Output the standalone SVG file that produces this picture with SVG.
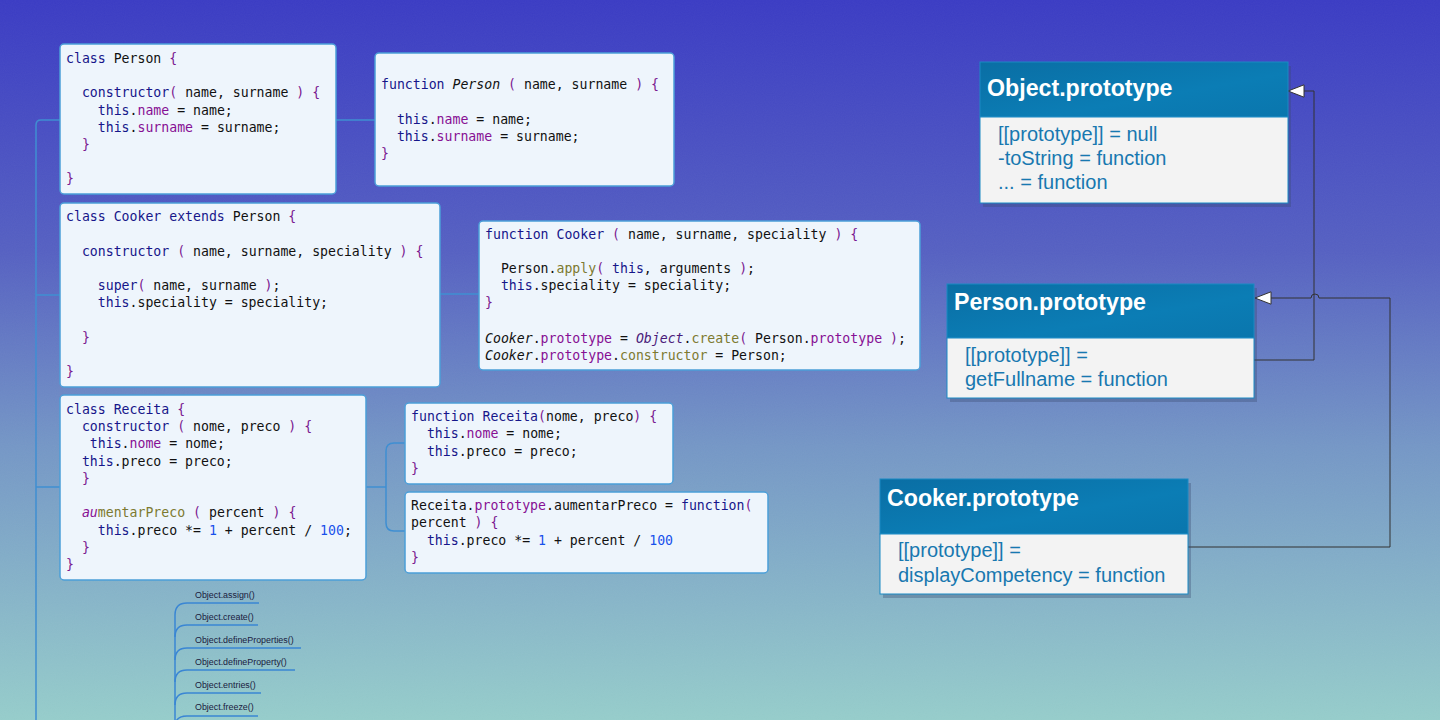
<svg xmlns="http://www.w3.org/2000/svg" width="1440" height="720" viewBox="0 0 1440 720">
<defs>
<linearGradient id="bg" x1="0" y1="0" x2="0" y2="1">
<stop offset="0" stop-color="#3a3bc3"/>
<stop offset="0.35" stop-color="#5560c1"/>
<stop offset="0.62" stop-color="#7496c5"/>
<stop offset="1" stop-color="#95ccca"/>
</linearGradient>
<linearGradient id="hdr" x1="0" y1="0" x2="1" y2="1">
<stop offset="0" stop-color="#0a6ea4"/>
<stop offset="0.6" stop-color="#0b7db5"/>
<stop offset="1" stop-color="#0a76ad"/>
</linearGradient>
<filter id="noise" x="0" y="0" width="100%" height="100%">
<feTurbulence type="fractalNoise" baseFrequency="0.9" numOctaves="1" seed="3"/>
<feColorMatrix type="matrix" values="0 0 0 0 1  0 0 0 0 1  0 0 0 0 1  0 0 0 0.5 0"/>
</filter>
<marker id="tri" viewBox="0 0 17 14" refX="16.5" refY="7" markerWidth="17" markerHeight="14" markerUnits="userSpaceOnUse" orient="auto">
<path d="M0.5,0.8 L16.5,7 L0.5,13.2 Z" fill="#ffffff" stroke="#333333" stroke-width="1"/>
</marker>
</defs>
<style>
.code{font-family:"DejaVu Sans Mono","Liberation Mono",monospace;font-size:13.2px;fill:#111111;white-space:pre}
.k{fill:#16168a}
.p{fill:#871094}
.b{fill:#7a1890}
.m{fill:#7d7a30}
.n{fill:#1750eb}
.i{font-style:italic}
.box{fill:#eef5fc;stroke:#4b9ed8;stroke-width:1.5}
.tree{fill:none;stroke:#3f8fd2;stroke-width:1.5}
.list{fill:none;stroke:#3a86d4;stroke-width:1.5}
.li{font-family:"Liberation Sans",Arial,sans-serif;font-size:8.9px;fill:#1a2040}
.phdr{fill:url(#hdr);stroke:#1a8ac4;stroke-width:1}
.pbody{fill:#f3f3f3;stroke:#1a8ac4;stroke-width:1}
.pshadow{fill:#3a4a70;opacity:0.35}
.ptitle{font-family:"Liberation Sans",Arial,sans-serif;font-weight:bold;font-size:23.2px;fill:#ffffff}
.ptext{font-family:"Liberation Sans",Arial,sans-serif;font-size:20px;fill:#1878b0}
.conn{fill:none;stroke:#333333;stroke-width:1}
</style>
<rect width="1440" height="720" fill="url(#bg)"/>
<rect width="1440" height="720" filter="url(#noise)" opacity="0.07"/>

<g id="connectors">
<path class="tree" d="M36,720 V125 Q36,120 41,120 H60"/>
<path class="tree" d="M36,295 H60"/>
<path class="tree" d="M36,487 H60"/>
<path class="tree" d="M336,120 H375"/>
<path class="tree" d="M440,294 H479"/>
<path class="tree" d="M366,487 H386"/>
<path class="tree" d="M405,443 H394 Q386,443 386,451 V523 Q386,531 394,531 H405"/>
<path class="list" d="M175,720 V615 Q175,603 187,603 H259"/>
<path class="list" d="M175,637 Q175,625 187,625 H258"/>
<path class="list" d="M175,660 Q175,648 187,648 H301"/>
<path class="list" d="M175,682 Q175,670 187,670 H295"/>
<path class="list" d="M175,705 Q175,693 187,693 H261"/>
<path class="list" d="M175,727 Q175,716 187,716 H258"/>
<path class="conn" d="M1254,360 H1314 V91 H1288" marker-end="url(#tri)"/>
<path class="conn" d="M1188,547 H1390 V298 H1319 A4,4 0 0 0 1311,298 H1255" marker-end="url(#tri)"/>
</g>

<g id="class-person">
<rect class="box" x="60" y="44" width="276" height="150" rx="4"/>
<text class="code" x="66" y="62.5"><tspan class="k">class</tspan> Person <tspan class="b">{</tspan></text>
<text class="code" x="66" y="96.5">  <tspan class="k">constructor</tspan><tspan class="b">(</tspan> name, surname <tspan class="b">) {</tspan></text>
<text class="code" x="66" y="114.5">    <tspan class="k">this</tspan>.<tspan class="p">name</tspan> = name;</text>
<text class="code" x="66" y="131.5">    <tspan class="k">this</tspan>.<tspan class="p">surname</tspan> = surname;</text>
<text class="code" x="66" y="148.5">  <tspan class="b">}</tspan></text>
<text class="code" x="66" y="182.5"><tspan class="b">}</tspan></text>
</g>

<g id="function-person">
<rect class="box" x="375" y="53" width="299" height="133" rx="4"/>
<text class="code" x="381" y="88.5"><tspan class="k">function</tspan> <tspan class="i">Person</tspan> <tspan class="b">(</tspan> name, surname <tspan class="b">) {</tspan></text>
<text class="code" x="381" y="123.5">  <tspan class="k">this</tspan>.<tspan class="p">name</tspan> = name;</text>
<text class="code" x="381" y="140.5">  <tspan class="k">this</tspan>.<tspan class="p">surname</tspan> = surname;</text>
<text class="code" x="381" y="157.5"><tspan class="b">}</tspan></text>
</g>

<g id="class-cooker">
<rect class="box" x="60" y="203" width="380" height="184" rx="4"/>
<text class="code" x="66" y="220.5"><tspan class="k">class Cooker extends</tspan> Person <tspan class="b">{</tspan></text>
<text class="code" x="66" y="255.5">  <tspan class="k">constructor</tspan> <tspan class="b">(</tspan> name, surname, speciality <tspan class="b">) {</tspan></text>
<text class="code" x="66" y="289.5">    <tspan class="k">super</tspan><tspan class="b">(</tspan> name, surname <tspan class="b">)</tspan>;</text>
<text class="code" x="66" y="306.5">    <tspan class="k">this</tspan>.speciality = speciality;</text>
<text class="code" x="66" y="341.5">  <tspan class="b">}</tspan></text>
<text class="code" x="66" y="375.5"><tspan class="b">}</tspan></text>
</g>

<g id="function-cooker">
<rect class="box" x="479" y="221" width="441" height="149" rx="4"/>
<text class="code" x="485" y="238.5"><tspan class="k">function Cooker</tspan> <tspan class="b">(</tspan> name, surname, speciality <tspan class="b">) {</tspan></text>
<text class="code" x="485" y="272.5">  Person.<tspan class="m">apply</tspan><tspan class="b">(</tspan> <tspan class="k">this</tspan>, arguments <tspan class="b">)</tspan>;</text>
<text class="code" x="485" y="289.5">  <tspan class="k">this</tspan>.speciality = speciality;</text>
<text class="code" x="485" y="306.5"><tspan class="b">}</tspan></text>
<text class="code" x="485" y="342.5"><tspan class="i">Cooker</tspan>.<tspan class="p">prototype</tspan> = <tspan class="i" fill="#4a1a7a">Object</tspan>.<tspan class="m">create</tspan><tspan class="b">(</tspan> Person.<tspan class="p">prototype</tspan> <tspan class="b">)</tspan>;</text>
<text class="code" x="485" y="359.5"><tspan class="i">Cooker</tspan>.<tspan class="p">prototype</tspan>.<tspan class="m">constructor</tspan> = Person;</text>
</g>

<g id="class-receita">
<rect class="box" x="60" y="395" width="306" height="185" rx="4"/>
<text class="code" x="66" y="413.5"><tspan class="k">class Receita</tspan> <tspan class="b">{</tspan></text>
<text class="code" x="66" y="430.5">  <tspan class="k">constructor</tspan> <tspan class="b">(</tspan> nome, preco <tspan class="b">) {</tspan></text>
<text class="code" x="66" y="447.5">   <tspan class="k">this</tspan>.<tspan class="p">nome</tspan> = nome;</text>
<text class="code" x="66" y="465.5">  <tspan class="k">this</tspan>.preco = preco;</text>
<text class="code" x="66" y="482.5">  <tspan class="b">}</tspan></text>
<text class="code" x="66" y="516.5">  <tspan class="p i">au</tspan><tspan class="m">mentarPreco</tspan> <tspan class="b">(</tspan> percent <tspan class="b">) {</tspan></text>
<text class="code" x="66" y="534.5">    <tspan class="k">this</tspan>.preco *= <tspan class="n">1</tspan> + percent / <tspan class="n">100</tspan>;</text>
<text class="code" x="66" y="551.5">  <tspan class="b">}</tspan></text>
<text class="code" x="66" y="568.5"><tspan class="b">}</tspan></text>
</g>

<g id="function-receita">
<rect class="box" x="405" y="403" width="268" height="81" rx="4"/>
<text class="code" x="411" y="420.5"><tspan class="k">function Receita</tspan><tspan class="b">(</tspan>nome, preco<tspan class="b">) {</tspan></text>
<text class="code" x="411" y="437.5">  <tspan class="k">this</tspan>.<tspan class="p">nome</tspan> = nome;</text>
<text class="code" x="411" y="455.5">  <tspan class="k">this</tspan>.preco = preco;</text>
<text class="code" x="411" y="472.5"><tspan class="b">}</tspan></text>
</g>

<g id="receita-prototype-method">
<rect class="box" x="405" y="492" width="363" height="81" rx="4"/>
<text class="code" x="411" y="509.5">Receita.<tspan class="p">prototype</tspan>.aumentarPreco = <tspan class="k">function</tspan><tspan class="b">(</tspan></text>
<text class="code" x="411" y="526.5">percent <tspan class="b">) {</tspan></text>
<text class="code" x="411" y="544.5">  <tspan class="k">this</tspan>.preco *= <tspan class="n">1</tspan> + percent / <tspan class="n">100</tspan></text>
<text class="code" x="411" y="561.5"><tspan class="b">}</tspan></text>
</g>

<g id="object-methods">
<text class="li" x="195" y="598">Object.assign()</text>
<text class="li" x="195" y="620">Object.create()</text>
<text class="li" x="195" y="643">Object.defineProperties()</text>
<text class="li" x="195" y="665">Object.defineProperty()</text>
<text class="li" x="195" y="688">Object.entries()</text>
<text class="li" x="195" y="710">Object.freeze()</text>
</g>

<g id="object-prototype">
<rect class="pshadow" x="983" y="66" width="308" height="141"/>
<rect class="phdr" x="980" y="62" width="308" height="55"/>
<rect class="pbody" x="980" y="117" width="308" height="86"/>
<text class="ptitle" x="987" y="96">Object.prototype</text>
<text class="ptext" x="998" y="141">[[prototype]] = null</text>
<text class="ptext" x="998" y="165">-toString = function</text>
<text class="ptext" x="998" y="189">... = function</text>
</g>

<g id="person-prototype">
<rect class="pshadow" x="950" y="288" width="307" height="114"/>
<rect class="phdr" x="947" y="284" width="307" height="54"/>
<rect class="pbody" x="947" y="338" width="307" height="60"/>
<text class="ptitle" x="954" y="310">Person.prototype</text>
<text class="ptext" x="965" y="362">[[prototype]] =</text>
<text class="ptext" x="965" y="386">getFullname = function</text>
</g>

<g id="cooker-prototype">
<rect class="pshadow" x="883" y="483" width="308" height="115"/>
<rect class="phdr" x="880" y="479" width="308" height="55"/>
<rect class="pbody" x="880" y="534" width="308" height="60"/>
<text class="ptitle" x="887" y="506">Cooker.prototype</text>
<text class="ptext" x="898" y="557">[[prototype]] =</text>
<text class="ptext" x="898" y="582">displayCompetency = function</text>
</g>
</svg>
